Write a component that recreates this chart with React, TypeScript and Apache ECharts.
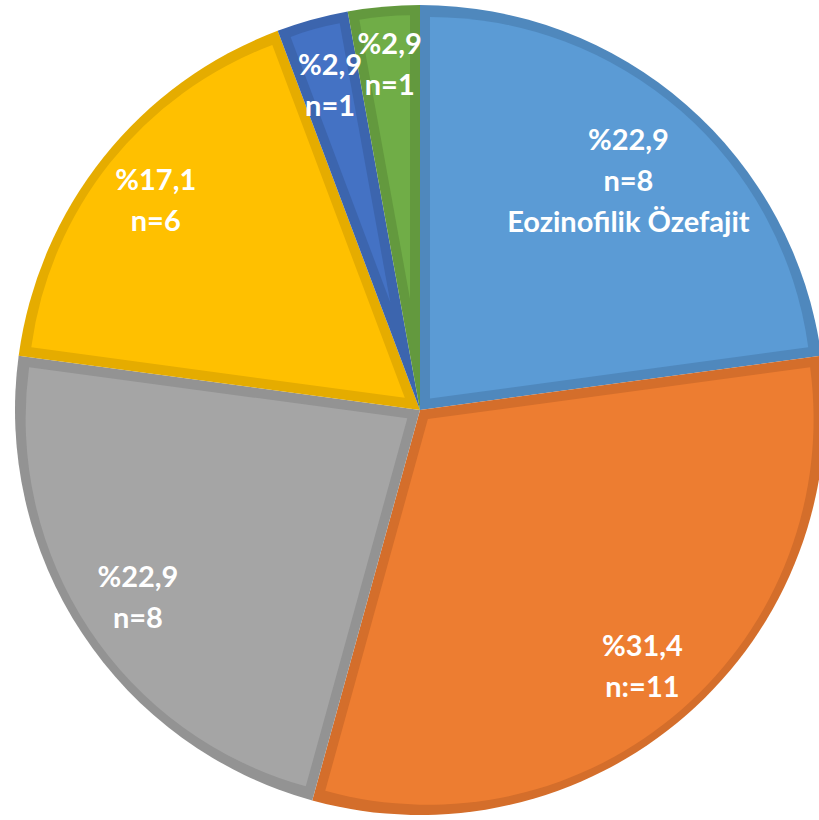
import React, { useEffect, useRef } from "react";
import * as echarts from "echarts";

const categories = ["Eozinofilik Özefajit", "Grup 2", "Grup 3", "Grup 4", "Grup 5", "Grup 6"];
const counts = [8, 11, 8, 6, 1, 1];
const percentLabels = ["%22,9", "%31,4", "%22,9", "%17,1", "%2,9", "%2,9"];
const countLabels = ["n=8", "n:=11", "n=8", "n=6", "n=1", "n=1"];
const extraLabels = ["Eozinofilik Özefajit", "", "", "", "", ""];
const fillColors = ["#5B9BD5", "#ED7D31", "#A5A5A5", "#FFC000", "#4472C4", "#70AD47"];
const borderColors = ["#4F88BD", "#D46E2B", "#939393", "#E5AC00", "#3C65AE", "#63993E"];

const CX = 420;
const CY = 410;
const R = 405;
const W = 10;

export default function App() {
  const ref = useRef<HTMLDivElement>(null);
  useEffect(() => {
    if (!ref.current) return;
    const chart = echarts.init(ref.current, undefined, { renderer: "svg" });
    const total = counts.reduce((a, b) => a + b, 0);

    const base = {
      type: "pie",
      center: [CX, CY],
      radius: R,
      startAngle: 90,
      clockwise: true,
      silent: true,
      label: { show: false },
      labelLine: { show: false },
      emphasis: { disabled: true },
      itemStyle: { borderWidth: 0 },
      data: counts.map((v, i) => ({
        name: categories[i],
        value: v,
        itemStyle: { color: borderColors[i], borderWidth: 0 },
      })),
    };

    const inner = counts.map((c, i) => {
      const theta = (c / total) * Math.PI * 2;
      const half = theta / 2;
      const d = W / Math.sin(half);
      const r = R - W - (d * (1 + Math.cos(half))) / 2;
      return {
        type: "pie",
        center: [CX, CY],
        radius: r,
        startAngle: 90,
        clockwise: true,
        silent: true,
        selectedMode: "single",
        selectedOffset: d,
        label: { show: false },
        labelLine: { show: false },
        emphasis: { disabled: true },
        itemStyle: { borderWidth: 0 },
        select: { itemStyle: { color: fillColors[i], borderWidth: 0 } },
        data: counts.map((v, j) => ({
          name: categories[j],
          value: v,
          selected: j === i,
          itemStyle: { color: j === i ? fillColors[i] : "rgba(0,0,0,0)", borderWidth: 0 },
        })),
      };
    });

    const labels = {
      type: "pie",
      center: [CX, CY],
      radius: [270, 400],
      startAngle: 90,
      clockwise: true,
      silent: true,
      avoidLabelOverlap: false,
      labelLayout: { hideOverlap: false },
      emphasis: { disabled: true },
      itemStyle: { color: "rgba(0,0,0,0)", borderWidth: 0 },
      labelLine: { show: false },
      label: {
        show: true,
        position: "inside",
        color: "#ffffff",
        fontFamily: "Lato",
        fontWeight: "bold",
        fontSize: 29,
        lineHeight: 41,
        align: "center",
        formatter: (p: any) => {
          const i = p.dataIndex;
          const parts = [percentLabels[i], countLabels[i]];
          if (extraLabels[i]) parts.push(extraLabels[i]);
          return parts.join("\n");
        },
      },
      data: counts.map((v, i) => ({
        name: categories[i],
        value: v,
        label: i === 0 ? { offset: [-14, 24] } : i === 5 ? { offset: [0, -10] } : {},
      })),
    };

    chart.setOption({
      animation: false,
      backgroundColor: "#ffffff",
      series: [base, ...inner, labels],
    });
    return () => chart.dispose();
  }, []);
  return (
    <div
      ref={ref}
      style={{ position: "fixed", left: 0, top: 0, width: 819, height: 820 }}
    />
  );
}
